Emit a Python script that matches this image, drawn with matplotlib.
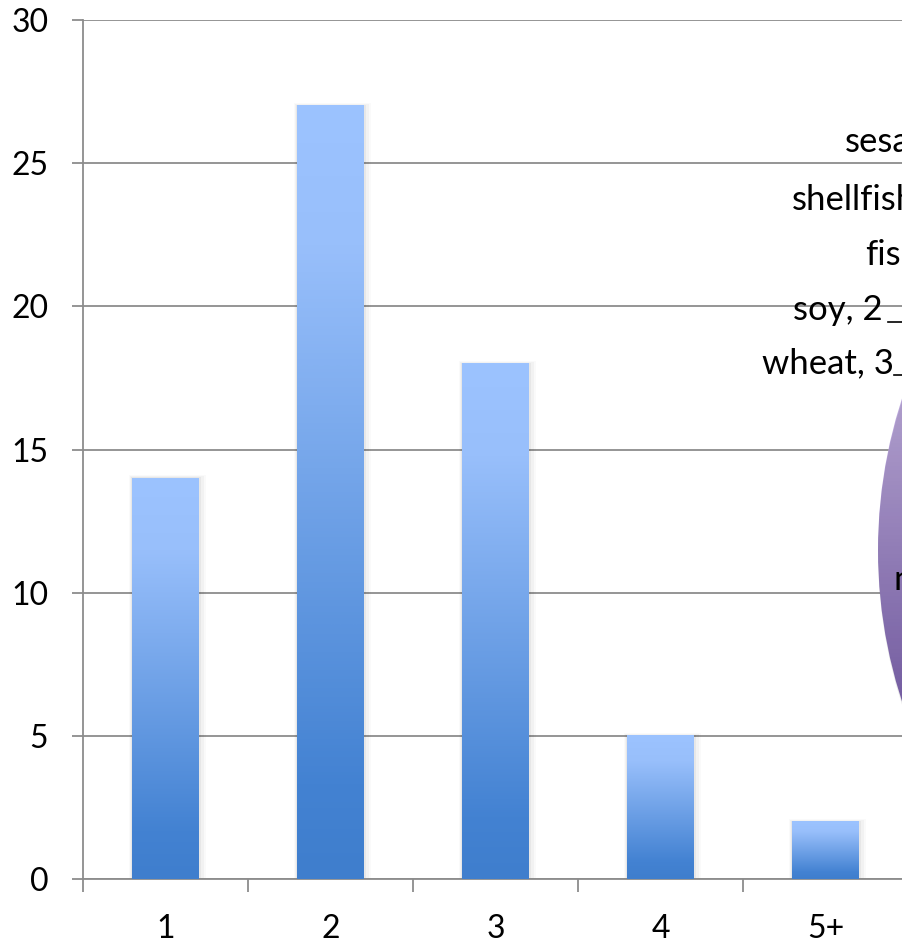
import numpy as np
import matplotlib.pyplot as plt
from matplotlib.colors import LinearSegmentedColormap
from matplotlib.patches import Rectangle, Ellipse

plt.rcParams['font.family'] = ['Lato', 'DejaVu Sans']

categories = ['1', '2', '3', '4', '5+']
counts = [14, 27, 18, 5, 2]
y_ticks = [0, 5, 10, 15, 20, 25, 30]

# pie labels that show at the right edge (left x, baseline y in pixels)
pie_labels = ['sesame', 'shellfish', 'fish', 'soy, 2', 'wheat, 3']
pie_label_x = [845, 792, 865, 793, 762]
pie_label_y = [152, 210, 265, 320, 373]

W, H = 902, 942
fig = plt.figure(figsize=(W / 100, H / 100), dpi=100)
fig.patch.set_facecolor('white')

grid_col = '#8c8c8c'
ax = fig.add_axes([83 / W, 1 - 879 / H, 825 / W, 859 / H])
ax.set_xlim(-0.5, 4.5)
ax.set_ylim(0, 30)
ax.set_yticks(y_ticks)
ax.set_yticklabels([str(t) for t in y_ticks])
ax.yaxis.grid(True, color=grid_col, linewidth=1.3)
ax.set_axisbelow(True)
for s in ['top', 'right']:
    ax.spines[s].set_visible(False)
for s in ['left', 'bottom']:
    ax.spines[s].set_color(grid_col)
    ax.spines[s].set_linewidth(1.3)

x = np.arange(len(categories))
ax.set_xticks(x)
ax.set_xticklabels(categories)
ax.set_xticks(np.arange(-0.5, 5, 1), minor=True)
ax.tick_params(axis='x', which='major', length=0, pad=25, labelsize=23)
ax.tick_params(axis='x', which='minor', length=9, width=1.3, color=grid_col)
ax.tick_params(axis='y', length=8, width=1.3, color=grid_col, pad=17, labelsize=23)

# blue gradient bars, light at the top and darker towards the base
bar_cmap = LinearSegmentedColormap.from_list(
    'bars', [(0, '#9cc3ff'), (0.18, '#98bffb'), (0.88, '#4382d2'), (1, '#3f7ecd')])
grad = np.linspace(0, 1, 256).reshape(-1, 1)
bars = ax.bar(x, counts, width=0.406, color='none', edgecolor='none', zorder=3)
for b in bars:
    x0, w, h = b.get_x(), b.get_width(), b.get_height()
    # soft shadow behind each bar
    for k, a in enumerate([0.045, 0.03, 0.02]):
        d = 0.012 * (k + 1)
        ax.add_patch(Rectangle((x0 - d * 0.5, 0), w + d * 1.7, h + d * 3.0,
                               facecolor='#000000', alpha=a, edgecolor='none', zorder=2))
    ax.imshow(grad, cmap=bar_cmap, aspect='auto', origin='upper',
              extent=(x0, x0 + w, 0, h), zorder=3, interpolation='bilinear')
ax.set_xlim(-0.5, 4.5)
ax.set_ylim(0, 30)

# overlay in pixel coordinates for the pie chart on the right
ov = fig.add_axes([0, 0, 1, 1])
ov.set_xlim(0, W)
ov.set_ylim(H, 0)
ov.axis('off')
ov.patch.set_alpha(0)

pie_cmap = LinearSegmentedColormap.from_list(
    'pie', [(0, '#d2c6ea'), (0.35, '#bdaadd'), (0.65, '#8067b0'), (1, '#6a5299')])
cx, cy, r = 1368, 550, 490
circ = Ellipse((cx, cy), 2 * r, 2 * r, facecolor='none', edgecolor='none')
ov.add_patch(circ)
shadow = Ellipse((cx + 2, cy + 3), 2 * r + 4, 2 * r + 4, facecolor='#000000',
                 alpha=0.08, edgecolor='none')
ov.add_patch(shadow)
img = ov.imshow(grad, cmap=pie_cmap, aspect='auto', origin='upper',
                extent=(cx - r, cx + r, cy + r, cy - r), interpolation='bilinear')
img.set_clip_path(circ)
ov.set_xlim(0, W)
ov.set_ylim(H, 0)

for lab, lx, ly in zip(pie_labels, pie_label_x, pie_label_y):
    ov.text(lx, ly, lab, fontsize=25, ha='left', va='baseline', color='black')
# leader lines
ov.plot([888, 905], [322, 322], color='black', linewidth=1.2)
ov.plot([894, 905], [375, 375], color='black', linewidth=1.2)
ov.text(893, 590, 'nuts', fontsize=25, ha='left', va='baseline', color='black')

fig.savefig('out.png', dpi=100)
